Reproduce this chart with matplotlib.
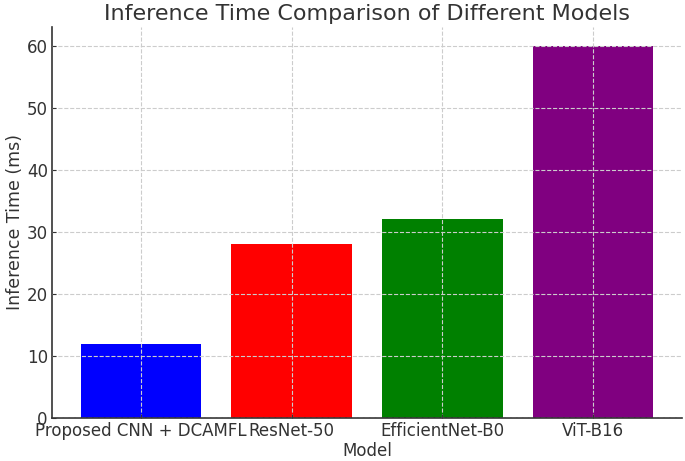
import matplotlib.pyplot as plt

models = ['Proposed CNN + DCAMFL', 'ResNet-50', 'EfficientNet-B0', 'ViT-B16']
times = [12, 28, 32, 60]
colors = ['blue', 'red', 'green', 'purple']

plt.rcParams['font.family'] = 'DejaVu Sans'
plt.rcParams['text.color'] = '#333333'
plt.rcParams['axes.labelcolor'] = '#333333'
plt.rcParams['xtick.color'] = '#333333'
plt.rcParams['ytick.color'] = '#333333'

fig = plt.figure(figsize=(6.85, 4.61), dpi=100)
ax = fig.add_axes([52/685, 43/461, 630/685, 391/461])
ax.bar(models, times, color=colors, width=0.8)
ax.set_title('Inference Time Comparison of Different Models', fontsize=16, pad=5)
ax.set_xlabel('Model', fontsize=12, labelpad=1)
ax.set_ylabel('Inference Time (ms)', fontsize=12.5, labelpad=2)
ax.tick_params(labelsize=12, length=3, direction='in', pad=3)
ax.grid(True, linestyle='--', color='#cccccc', linewidth=0.8)
ax.set_axisbelow(False)
ax.spines['top'].set_visible(False)
ax.spines['right'].set_visible(False)
for s in ['left', 'bottom']:
    ax.spines[s].set_color('#333333')
    ax.spines[s].set_linewidth(1.2)

fig.savefig('out.png')
